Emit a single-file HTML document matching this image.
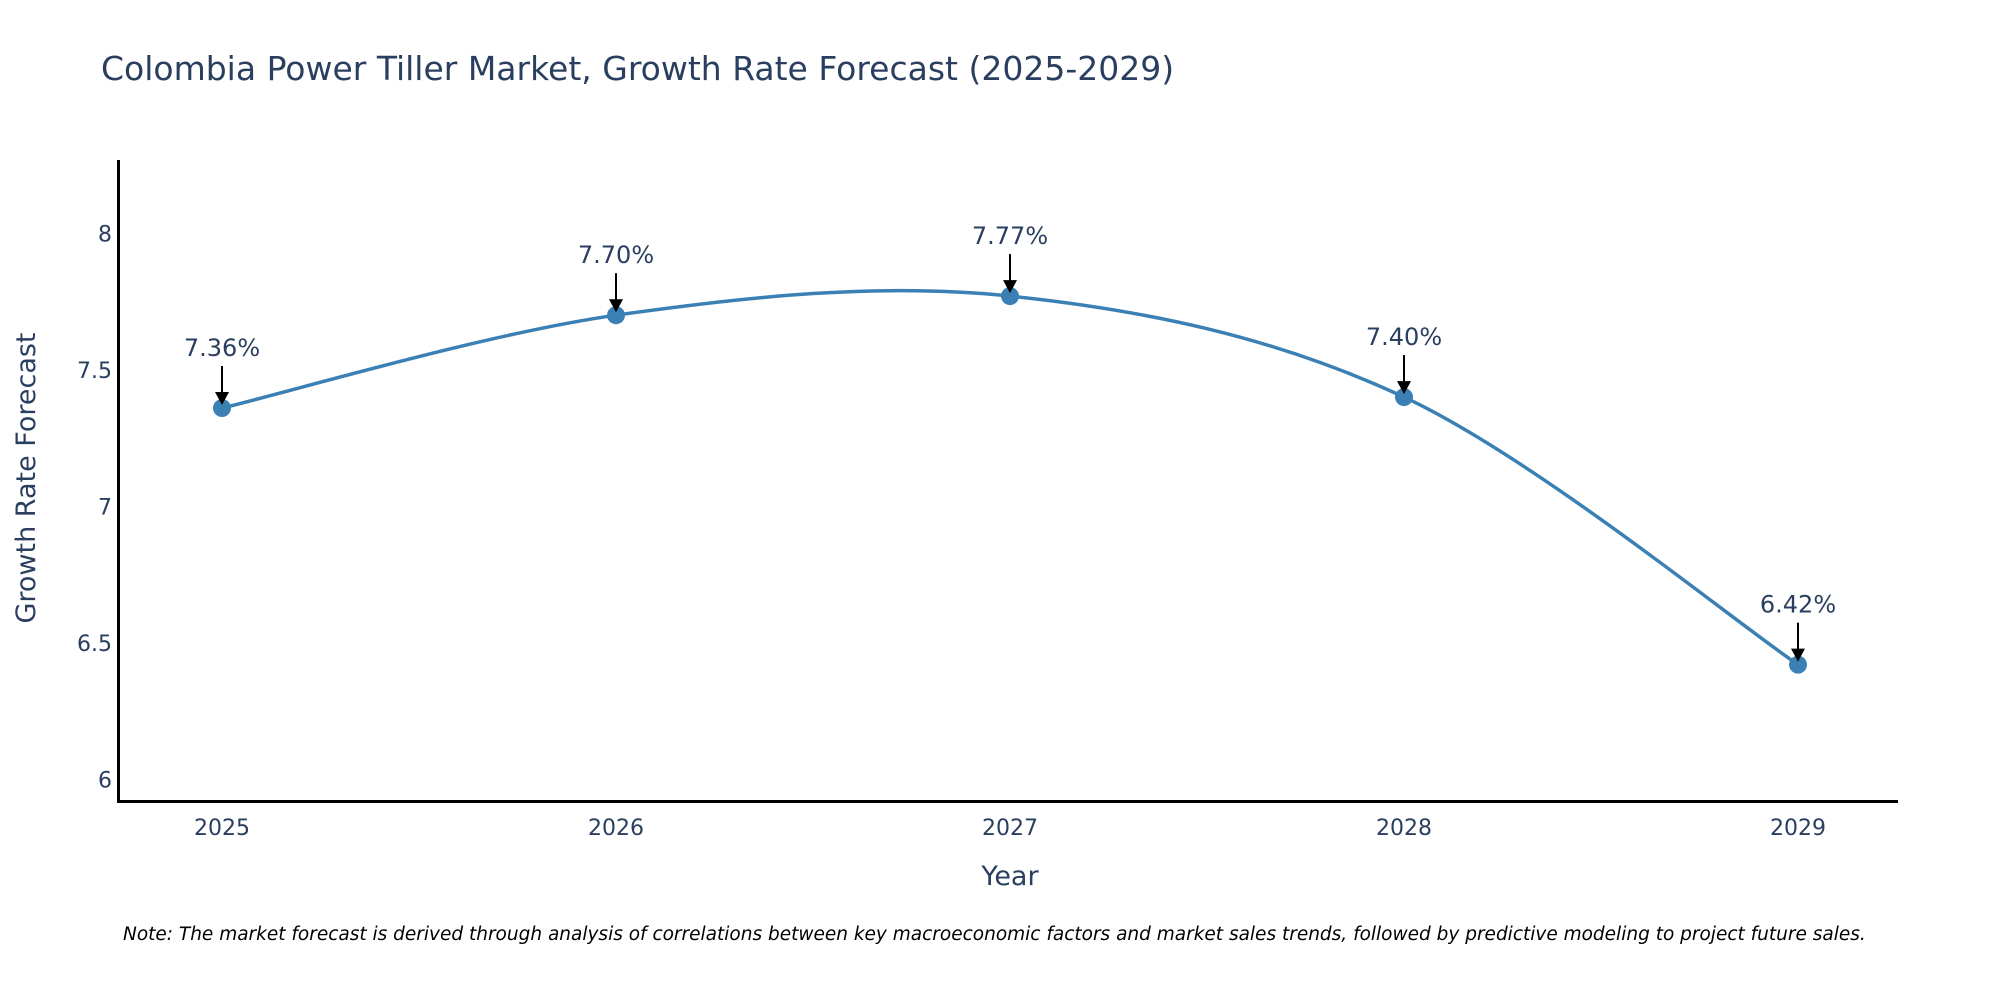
<!DOCTYPE html>
<html><head><meta charset="utf-8"><style>
body{margin:0;background:#fff;}
svg{display:block;font-family:"DejaVu Sans","Liberation Sans",sans-serif;}
</style></head><body>
<svg id="chart" width="2000" height="1000">
<text x="101" y="80" font-size="33" fill="#2a3f5f">Colombia Power Tiller Market, Growth Rate Forecast (2025-2029)</text>
<g id="yticks"></g>
<g id="xticks"></g>
<path id="line" fill="none" stroke="#3b80b5" stroke-width="3.5"></path>
<g id="points"></g>
<line x1="118.5" y1="160" x2="118.5" y2="802" stroke="#000" stroke-width="3"/>
<line x1="117" y1="801.5" x2="1898" y2="801.5" stroke="#000" stroke-width="3"/>
<text x="1010" y="885" font-size="27" fill="#2a3f5f" text-anchor="middle">Year</text>
<text transform="translate(35,478) rotate(-90)" font-size="27" fill="#2a3f5f" text-anchor="middle">Growth Rate Forecast</text>
<text x="123" y="940" font-size="18.5" font-style="italic" fill="#000">Note: The market forecast is derived through analysis of correlations between key macroeconomic factors and market sales trends, followed by predictive modeling to project future sales.</text>
</svg>
<script>
const years=[2025,2026,2027,2028,2029];
const growth=[7.36,7.70,7.77,7.40,6.42];
const labels=["7.36%","7.70%","7.77%","7.40%","6.42%"];
const yTicks=[6,6.5,7,7.5,8];
const NS="http://www.w3.org/2000/svg";
function xs(v){return 222+(v-2025)*394;}
function ys(v){return 779.3-(v-6)*273;}
function mk(t,a,parent){const e=document.createElementNS(NS,t);for(const k in a)e.setAttribute(k,a[k]);parent.appendChild(e);return e;}
const yg=document.getElementById('yticks');
yTicks.forEach(t=>{const e=mk('text',{x:112,y:ys(t)+8,'font-size':22,fill:'#2a3f5f','text-anchor':'end'},yg);


e.textContent=String(t);});
const xg=document.getElementById('xticks');
years.forEach(t=>{const e=mk('text',{x:xs(t),y:835,'font-size':22,fill:'#2a3f5f','text-anchor':'middle'},xg);


e.textContent=String(t);});
const P=years.map((y,i)=>[xs(y),ys(growth[i])]);
let d="M"+P[0][0]+","+P[0][1];
const s=0.5;
for(let i=0;i<P.length-1;i++){
 const p0=P[Math.max(0,i-1)],p1=P[i],p2=P[i+1],p3=P[Math.min(P.length-1,i+2)];
 const c1=[p1[0]+(p2[0]-p0[0])*s/3,p1[1]+(p2[1]-p0[1])*s/3];
 const c2=[p2[0]-(p3[0]-p1[0])*s/3,p2[1]-(p3[1]-p1[1])*s/3];
 d+=" C"+c1+" "+c2+" "+p2;
}
document.getElementById('line').setAttribute('d',d);
const pg=document.getElementById('points');
P.forEach((p,i)=>{
 const c=mk('circle',{cx:p[0],cy:p[1],r:9,fill:'#3b80b5'},pg);
 
 
 const l=mk('line',{x1:p[0],y1:p[1]-42,x2:p[0],y2:p[1]-14,stroke:'#000','stroke-width':2},pg);
 
 
 const h=mk('path',{d:`M${p[0]-7},${p[1]-16} L${p[0]+7},${p[1]-16} L${p[0]},${p[1]-3} Z`,fill:'#000'},pg);
 
 
 const t=mk('text',{x:p[0],y:p[1]-52,'font-size':24,fill:'#2a3f5f','text-anchor':'middle'},pg);
 
 
 t.textContent=labels[i];
});
</script>
</body></html>
